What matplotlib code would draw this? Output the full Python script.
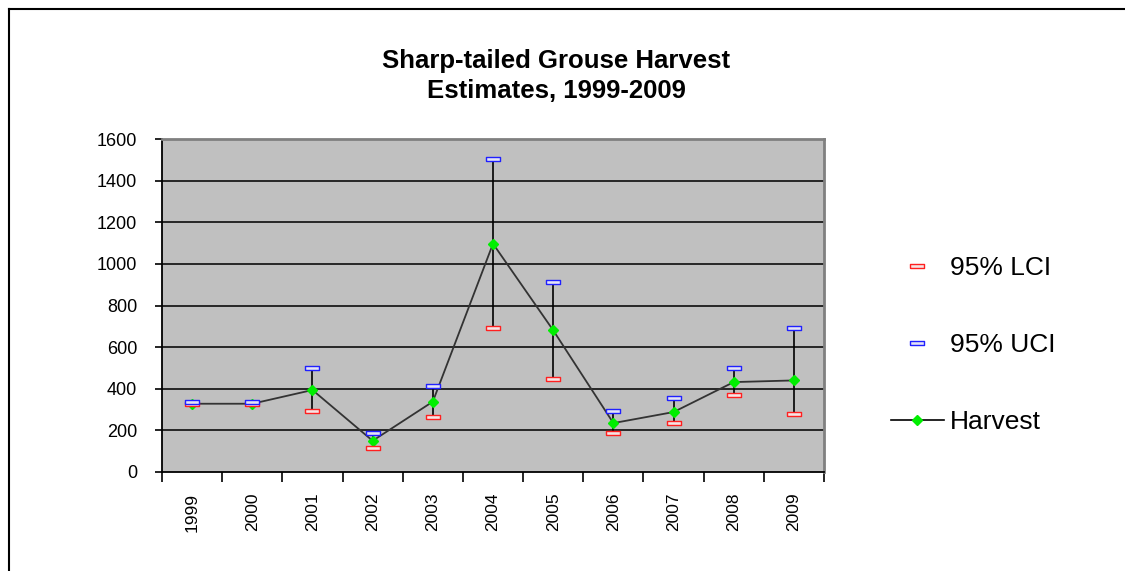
import matplotlib.pyplot as plt
from matplotlib.lines import Line2D
import numpy as np

plt.rcParams['font.family'] = ['Liberation Sans', 'DejaVu Sans']

years = ["1999", "2000", "2001", "2002", "2003", "2004", "2005", "2006", "2007", "2008", "2009"]
harvest = [328, 328, 394, 150, 338, 1097, 681, 235, 288, 432, 440]
lci = [325, 325, 293, 114, 263, 692, 447, 187, 235, 372, 280]
uci = [335, 335, 501, 187, 415, 1504, 913, 292, 354, 501, 692]

W, H = 1125, 571
fig = plt.figure(figsize=(W / 100, H / 100), dpi=100)
ax = fig.add_axes([162 / W, 1 - 472 / H, (824 - 162) / W, (472 - 139) / H])
ax.set_facecolor('#c0c0c0')

x = np.arange(len(years))
rect = [(-1, -0.32), (1, -0.32), (1, 0.32), (-1, 0.32), (-1, -0.32)]

for yv in range(200, 1601, 200):
    ax.axhline(yv, color='#1a1a1a', lw=1.3, zorder=1)

ax.vlines(x, lci, uci, color='black', lw=1.2, zorder=2)
ax.plot(x, harvest, color='#333333', lw=1.3, marker='D', ms=5,
        mfc='#00ee00', mec='#00ee00', zorder=3)
ax.plot(x, lci, ls='none', marker=rect, ms=10.5, mfc='#f6e4e4', mec='#ff2020', mew=1, zorder=4)
ax.plot(x, uci, ls='none', marker=rect, ms=10.5, mfc='#e4e4f6', mec='#2020ff', mew=1, zorder=4)

ax.set_xlim(-0.5, len(years) - 0.5)
ax.set_ylim(0, 1600)
ax.set_yticks(range(0, 1601, 200))
ax.tick_params(axis='y', direction='out', length=5, width=1.2, labelsize=13, pad=13)
ax.set_xticks(np.arange(-0.5, len(years), 1))
ax.set_xticklabels([])
ax.tick_params(axis='x', which='major', direction='out', length=7, width=1.2)
ax.set_xticks(x, minor=True)
ax.set_xticklabels(years, minor=True, rotation=90, fontsize=12.5)
ax.tick_params(axis='x', which='minor', length=0, pad=15)

for s in ['left', 'bottom']:
    ax.spines[s].set_color('black')
    ax.spines[s].set_linewidth(1.3)
for s in ['top', 'right']:
    ax.spines[s].set_color('#808080')
    ax.spines[s].set_linewidth(2)

fig.text(556 / W, 1 - 76 / H, "Sharp-tailed Grouse Harvest\nEstimates, 1999-2009",
         ha='center', va='center', fontsize=18.5, fontweight='bold', linespacing=1.3)

handles = [
    Line2D([], [], ls='none', marker=rect, ms=10.5, mfc='#f6e4e4', mec='#ff2020', mew=1),
    Line2D([], [], ls='none', marker=rect, ms=10.5, mfc='#e4e4f6', mec='#2020ff', mew=1),
    Line2D([], [], color='black', lw=1.2, marker='D', ms=5, mfc='#00ee00', mec='#00ee00'),
]
fig.legend(handles, ["95% LCI", "95% UCI", "Harvest"], loc='center left',
           bbox_to_anchor=(891 / W, 1 - 345 / H), frameon=False, fontsize=19,
           labelspacing=2.0, handlelength=2.0, handletextpad=0.25, borderpad=0,
           borderaxespad=0)

fig.add_artist(Line2D([9 / W, 9 / W], [0, 1 - 9 / H], color='black', lw=1.5))
fig.add_artist(Line2D([9 / W, 1], [1 - 9 / H, 1 - 9 / H], color='black', lw=1.5))

fig.savefig('out.png', dpi=100)
